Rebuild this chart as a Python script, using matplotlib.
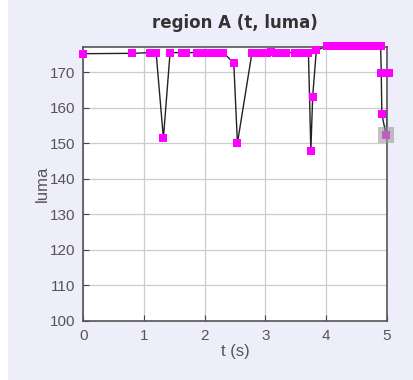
import matplotlib
matplotlib.use("Agg")
import matplotlib.pyplot as plt
from matplotlib.patches import Rectangle

# data (time in seconds, luma value)
t = [0.00, 0.81, 1.10, 1.15, 1.20, 1.32, 1.43, 1.62, 1.70,
     1.87, 1.95, 2.02, 2.09, 2.16, 2.23, 2.31, 2.48, 2.54,
     2.78, 2.86, 2.94, 3.02, 3.10, 3.18, 3.26, 3.34, 3.49, 3.56, 3.64, 3.71,
     3.75, 3.78, 3.84, 4.02, 4.10, 4.18, 4.26, 4.34, 4.42, 4.50, 4.58,
     4.66, 4.74, 4.82, 4.90, 4.91, 4.92, 4.99, 5.04]
luma = [175.2, 175.3, 175.5, 175.5, 175.5, 151.4, 175.5, 175.5, 175.5,
        175.5, 175.5, 175.5, 175.5, 175.5, 175.5, 175.5, 172.5, 150.0,
        175.5, 175.5, 175.5, 175.5, 175.6, 175.5, 175.5, 175.5, 175.5, 175.5, 175.5, 175.5,
        147.9, 163.1, 176.1, 177.4, 177.4, 177.4, 177.4, 177.4, 177.4, 177.4, 177.4,
        177.4, 177.4, 177.4, 177.4, 169.7, 158.2, 152.3, 169.7]
highlight_t = 4.99
highlight_luma = 152.3

xticks = [0, 1, 2, 3, 4, 5]
yticks = [100, 110, 120, 130, 140, 150, 160, 170]

fig = plt.figure(figsize=(4.14, 3.80), dpi=100, facecolor="white")
fig.patches.append(Rectangle((8 / 414, 0), 1, 1, transform=fig.transFigure,
                             facecolor="#eeeefb", edgecolor="none", zorder=-10))

ax = fig.add_axes([83.3 / 414, 1 - 320.7 / 380, (386.7 - 83.3) / 414, (320.7 - 47.3) / 380])
ax.set_facecolor("white")
ax.set_xlim(0, 5.0)
ax.set_ylim(100, 177.0)

ax.grid(True, color="#cccccc", linewidth=0.9)
ax.set_axisbelow(True)

ax.plot(t, luma, color="#222222", linewidth=1.0, zorder=2)
ax.plot(t, luma, linestyle="none", marker="s", markersize=5.2,
        color="#ff00ff", markeredgewidth=0, clip_on=False, zorder=3)
ax.plot([highlight_t], [highlight_luma], linestyle="none", marker="s", markersize=12,
        color="#9a9a9a", alpha=0.6, markeredgewidth=0, clip_on=False, zorder=4)

ax.set_xticks(xticks)
ax.set_yticks(yticks)
ax.tick_params(direction="in", length=4, color="#444444",
               labelsize=11, labelcolor="#555555", pad=6)
for lab in ax.get_xticklabels() + ax.get_yticklabels():
    lab.set_family("Liberation Sans")
for s in ax.spines.values():
    s.set_color("#555555")
    s.set_linewidth(1.2)

ax.set_xlabel("t (s)", fontsize=12, color="#555555", family="Liberation Sans", labelpad=1)
ax.set_ylabel("luma", fontsize=12, color="#555555", family="Liberation Sans", labelpad=0)
ax.set_title("region A (t, luma)", fontsize=12, fontweight="bold", color="#333333", pad=14)

fig.savefig("out.png", dpi=100, facecolor=fig.get_facecolor())
